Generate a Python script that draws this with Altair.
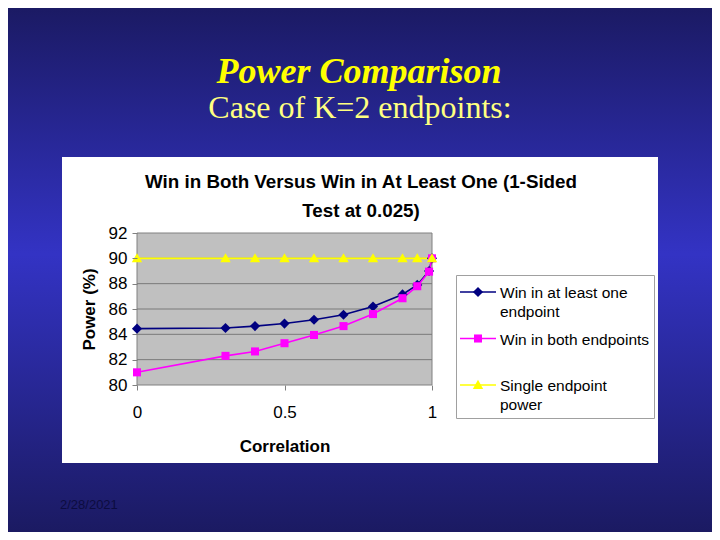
import altair as alt
import pandas as pd

# ---------------- data ----------------
correlation = [0, 0.3, 0.4, 0.5, 0.6, 0.7, 0.8, 0.9, 0.95, 0.99, 1.0]
win_at_least_one = [84.45, 84.5, 84.65, 84.85, 85.15, 85.55, 86.2, 87.15, 87.9, 89.0, 90.0]
win_both = [81.0, 82.3, 82.65, 83.3, 83.95, 84.65, 85.6, 86.85, 87.8, 88.95, 90.0]
single_corr = [0, 0.3, 0.4, 0.5, 0.6, 0.7, 0.8, 0.9, 0.95, 1.0]
single_power = [90, 90, 90, 90, 90, 90, 90, 90, 90, 90]

series_names = ["Win in at least one endpoint", "Win in both endpoints", "Single endpoint power"]
series_colors = ["#000080", "#ff00ff", "#ffff00"]
# marker outlines in the unit box (-1..1)
series_shapes = [
    "M0,-0.39L0.39,0L0,0.39L-0.39,0Z",
    "M-0.31,-0.31L0.31,-0.31L0.31,0.31L-0.31,0.31Z",
    "M0,-0.4L0.4,0.3L-0.4,0.3Z",
]
legend_line_shape = "M-1.5,0L1.5,0"

y_ticks = [80, 82, 84, 86, 88, 90, 92]
x_ticks = [0, 0.5, 1]
grid_values = [82, 84, 86, 88, 90]

chart_title = ["Win in Both Versus Win in At Least One (1-Sided", "Test at 0.025)"]
slide_title = "Power Comparison"
slide_subtitle = "Case of K=2 endpoints:"
slide_date = "2/28/2021"

rows = []
for c, v in zip(correlation, win_at_least_one):
    rows.append({"corr": c, "power": v, "series": series_names[0]})
for c, v in zip(correlation, win_both):
    rows.append({"corr": c, "power": v, "series": series_names[1]})
for c, v in zip(single_corr, single_power):
    rows.append({"corr": c, "power": v, "series": series_names[2]})
df = pd.DataFrame(rows)

FONT = "Liberation Sans"
PLOT_W, PLOT_H = 295, 152
LABEL_DY = 6
SYM = 676

xscale = alt.Scale(domain=[0, 1], nice=False, zero=False)
yscale = alt.Scale(domain=[80, 92], nice=False, zero=False)
xaxis = alt.Axis(values=x_ticks, title="Correlation", format="~g", labelPadding=14 - LABEL_DY,
                 titlePadding=12 + LABEL_DY, tickSize=5, zindex=1, grid=False, domain=False,
                 labelFlush=False)
yaxis = alt.Axis(values=y_ticks, title="Power (%)", labelPadding=5, titlePadding=10,
                 tickSize=5, labelOffset=-LABEL_DY, zindex=1, grid=False, domain=False,
                 labelFlush=False)

label_expr = ("datum.label == 'Win in at least one endpoint' ? ['Win in at least one', 'endpoint'] : "
              "datum.label == 'Single endpoint power' ? ['Single endpoint', 'power'] : "
              "[datum.label, '']")

legend_common = dict(
    title=None, orient="none", legendX=319, legendY=42, padding=4,
    labelFont=FONT, labelFontSize=15.5, labelColor="black", labelLimit=240,
    labelExpr=label_expr, labelBaseline="alphabetic", labelOffset=9, rowPadding=4.5,
    symbolOffset=5, zindex=1,
)

marker_legend = alt.Legend(symbolSize=SYM, symbolStrokeWidth=0, strokeColor="#a0a0a0",
                           **legend_common)
stroke_legend = alt.Legend(symbolType=legend_line_shape, symbolSize=576, symbolStrokeWidth=1.5,
                           symbolFillColor="transparent", labelOpacity=0, **legend_common)

one = alt.Data(values=[{"x0": 0, "x1": 1, "y0": 80, "y1": 92}])

gradient = alt.LinearGradient(
    gradient="linear", x1=0, x2=0, y1=0, y2=1,
    stops=[alt.GradientStop(color="#1b1a64", offset=0),
           alt.GradientStop(color="#3333c4", offset=0.47),
           alt.GradientStop(color="#1b1a62", offset=1)],
)

bg = alt.Chart(one).mark_rect(color=gradient).encode(
    x=alt.value(-129), x2=alt.value(575), y=alt.value(-225), y2=alt.value(299))

panel = alt.Chart(one).mark_rect(color="white").encode(
    x=alt.value(-75), x2=alt.value(521), y=alt.value(-76), y2=alt.value(230))

plot_bg = alt.Chart(one).mark_rect(fill="#c0c0c0", stroke="#808080", strokeWidth=1).encode(
    x=alt.X("x0:Q", scale=xscale, axis=xaxis), x2="x1:Q",
    y=alt.Y("y0:Q", scale=yscale, axis=yaxis), y2="y1:Q")

grid = alt.Chart(pd.DataFrame({"g": grid_values})).mark_rule(color="#7a7a7a", strokeWidth=1).encode(
    y=alt.Y("g:Q", scale=yscale, axis=yaxis))

lines = alt.Chart(df).mark_line(strokeWidth=1.6).encode(
    x=alt.X("corr:Q", scale=xscale, axis=xaxis),
    y=alt.Y("power:Q", scale=yscale, axis=yaxis),
    stroke=alt.Stroke("series:N", sort=series_names,
                      scale=alt.Scale(range=series_colors), legend=stroke_legend),
)

points = alt.Chart(df).mark_point(filled=True, opacity=1, size=SYM, strokeWidth=0).encode(
    x=alt.X("corr:Q", scale=xscale, axis=xaxis),
    y=alt.Y("power:Q", scale=yscale, axis=yaxis),
    color=alt.Color("series:N", scale=alt.Scale(domain=series_names, range=series_colors),
                    legend=marker_legend),
    shape=alt.Shape("series:N", scale=alt.Scale(domain=series_names, range=series_shapes),
                    legend=marker_legend),
)

title_text = alt.Chart(one).mark_text(
    text=chart_title, font=FONT, fontSize=18.8, fontWeight="bold", color="black",
    align="center", baseline="alphabetic", lineHeight=29).encode(
    x=alt.value(224), y=alt.value(-45))

slide_title_text = alt.Chart(one).mark_text(
    text=slide_title, font="Liberation Serif", fontSize=36, fontWeight="bold",
    fontStyle="italic", color="#ffff00", align="center", baseline="alphabetic").encode(
    x=alt.value(222), y=alt.value(-150))

slide_sub_text = alt.Chart(one).mark_text(
    text=slide_subtitle, font="Liberation Serif", fontSize=32, color="#ffff80",
    align="center", baseline="alphabetic").encode(
    x=alt.value(223), y=alt.value(-115))

date_text = alt.Chart(one).mark_text(
    text=slide_date, font=FONT, fontSize=13, color="#0c0c40",
    align="left", baseline="middle").encode(
    x=alt.value(-77), y=alt.value(272))

chart = alt.layer(
    bg, panel, plot_bg, grid, lines, points,
    title_text, slide_title_text, slide_sub_text, date_text,
).properties(
    width=PLOT_W, height=PLOT_H,
    autosize=alt.AutoSizeParams(type="none"),
    padding={"left": 129, "top": 225, "right": 280, "bottom": 147},
).configure(
    background="#2a2a9a",
    view=alt.ViewConfig(stroke=None),
    axis=alt.AxisConfig(
        labelFont=FONT, labelFontSize=17, labelColor="black",
        titleFont=FONT, titleFontSize=17, titleFontWeight="bold", titleColor="black",
        tickColor="#808080", domain=False, grid=False,
    ),
    style={"guide-label": {"dy": LABEL_DY, "lineHeight": 19}},
)

chart.save("out.html", embed_options={"renderer": "svg", "actions": False})
